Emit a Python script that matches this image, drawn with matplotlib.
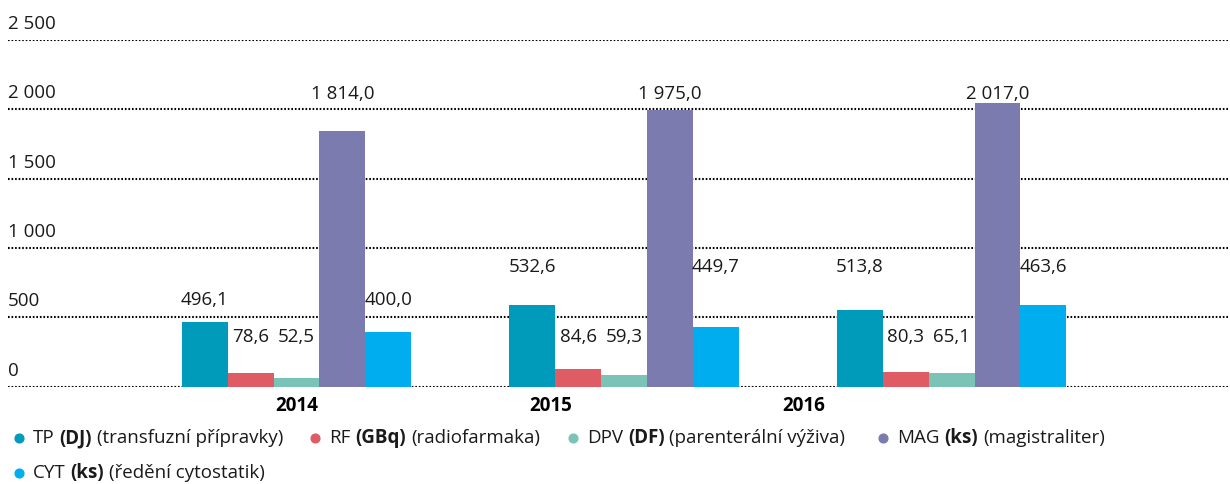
import numpy as np
import matplotlib
matplotlib.use("Agg")
import matplotlib.pyplot as plt
from matplotlib.lines import Line2D

plt.rcParams['font.family'] = ['Open Sans', 'DejaVu Sans']

# data
years = ["2014", "2015", "2016"]
series_codes = ["TP", "RF", "DPV", "MAG", "CYT"]
series_units = ["(DJ)", "(GBq)", "(DF)", "(ks)", "(ks)"]
series_names = ["(transfuzní přípravky)", "(radiofarmaka)", "(parenterální výživa)",
                "(magistraliter)", "(ředění cytostatik)"]
# printed values (labels)
tp_val = [496.1, 532.6, 513.8]
rf_val = [78.6, 84.6, 80.3]
dpv_val = [52.5, 59.3, 65.1]
mag_val = [1814.0, 1975.0, 2017.0]
cyt_val = [400.0, 449.7, 463.6]
# bar heights as drawn in the picture (they don't match the printed values exactly)
tp_bar = [465, 588, 552]
rf_bar = [97, 126, 105]
dpv_bar = [63, 83, 97]
mag_bar = [1842, 1993, 2044]
cyt_bar = [393, 429, 588]

values = [tp_val, rf_val, dpv_val, mag_val, cyt_val]
bars = [tp_bar, rf_bar, dpv_bar, mag_bar, cyt_bar]
yticks = [0, 500, 1000, 1500, 2000, 2500]

# layout / style
colors = ["#009bbb", "#e05c65", "#7cc3b7", "#7b7bb0", "#00aeef"]
label_y = [[624, 861, 861], [357, 357, 357], [357, 357, 357],
           [2109, 2109, 2109], [624, 861, 861]]
year_tick_pos = [0.0, 0.775, 1.548]
bar_w = 0.14
W, H = 1230, 484
fs = 13.5


def fmt(v, dec):
    s = f"{v:,.{dec}f}"
    return s.replace(",", " ").replace(".", ",")


fig = plt.figure(figsize=(W / 100, H / 100), dpi=100)
ax = fig.add_axes([8 / W, (H - 386.5) / H, 1220 / W, 346.5 / H])

x = np.arange(len(years))
for i in range(len(series_codes)):
    xs = x + (i - 2) * bar_w
    ax.bar(xs, bars[i], width=bar_w, color=colors[i], zorder=3, linewidth=0)
    for j in range(len(years)):
        ax.text(xs[j], label_y[i][j], fmt(values[i][j], 1), ha='center', va='center',
                fontsize=fs, color='#1a1a1a', zorder=4)

ax.set_xlim(-0.881, 2.844)
ax.set_ylim(0, 2500)
for t in yticks:
    ax.axhline(t, color='#000000', linestyle=(0, (0.8, 0.9)), linewidth=1.5, zorder=1)
    ax.annotate(fmt(t, 0), xy=(0, t), xycoords=('axes fraction', 'data'),
                xytext=(0, 11.5), textcoords='offset points', ha='left', va='center',
                fontsize=fs, color='#1a1a1a', annotation_clip=False)

ax.set_xticks(year_tick_pos)
ax.set_xticklabels(years, fontweight='bold', fontsize=fs)
ax.tick_params(axis='x', length=0, pad=7)
ax.set_yticks([])
for s in ax.spines.values():
    s.set_visible(False)

# legend drawn by hand (mixed bold / regular text)
renderer = fig.canvas.get_renderer()


def text_w(t):
    return t.get_window_extent(renderer).width


probe1 = fig.text(0, 0, "xx", fontsize=fs)
probe2 = fig.text(0, 0, "x x", fontsize=fs)
space_w = text_w(probe2) - text_w(probe1)
probe1.remove()
probe2.remove()

leg_pos = [(19, 438), (315, 438), (573, 438), (883, 438), (19, 473)]
for i in range(len(series_codes)):
    mx, my = leg_pos[i]
    fig.add_artist(Line2D([mx / W], [1 - my / H], marker='o', markersize=6.3,
                          color=colors[i], linestyle='none', transform=fig.transFigure))
    cx = mx + 14
    for piece, wt in [(series_codes[i], 'normal'), (series_units[i], 'bold'),
                      (series_names[i], 'normal')]:
        t = fig.text(cx / W, 1 - my / H, piece, fontsize=fs, fontweight=wt,
                     ha='left', va='center', color='#1a1a1a')
        cx += text_w(t) + space_w

fig.savefig("out.png", dpi=100)
